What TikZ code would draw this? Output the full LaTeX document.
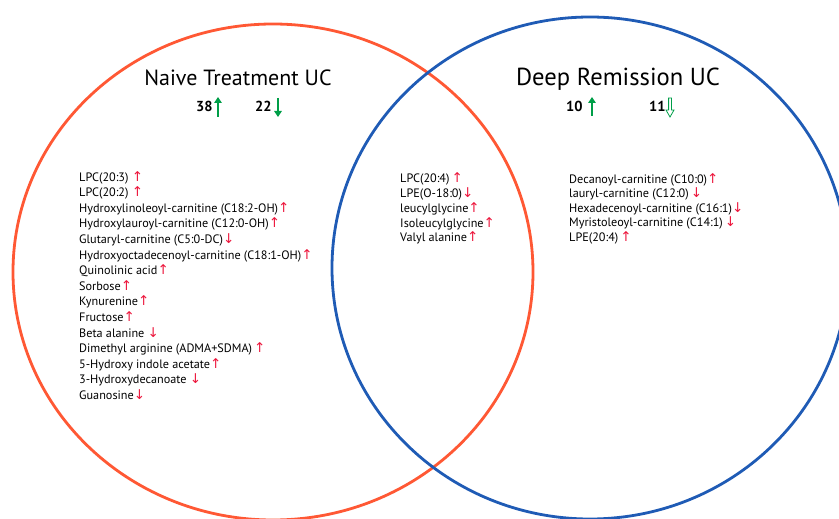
\documentclass[tikz,border=0pt]{standalone}
\usepackage{fontspec}
\setmainfont{PT Sans}
\newfontfamily\symfont{DejaVu Sans}
\usepackage{xcolor}
\usetikzlibrary{arrows.meta}
\definecolor{naiveorange}{RGB}{255,88,52}
\definecolor{deepblue}{RGB}{31,91,181}
\definecolor{markred}{RGB}{236,22,60}
\definecolor{countgreen}{RGB}{0,158,72}
\newcommand{\rup}{{\color{markred}\symfont\fontsize{13.5}{14}\selectfont ↑}}
\newcommand{\rdown}{{\color{markred}\symfont\fontsize{13.5}{14}\selectfont ↓}}

\begin{document}
\begin{tikzpicture}[x=1pt,y=-1pt,
  item/.style={anchor=base west,inner sep=0pt,font=\fontsize{12.2}{14}\selectfont},
  vtitle/.style={anchor=base,inner sep=0pt,font=\fontsize{22}{26}\selectfont},
  count/.style={anchor=base west,inner sep=0pt,font=\fontsize{14.5}{16}\selectfont\bfseries},
  bigarrow/.style={countgreen,line width=2.6pt,-{Triangle[length=6pt,width=7.5pt]}}]
  \useasboundingbox (0,0) rectangle (839,519);
  \clip (0,0) rectangle (839,519);
  % circles
  \draw[naiveorange,line width=2.8pt] (273,272) ellipse[x radius=260pt,y radius=248pt];
  \draw[deepblue,line width=2.8pt] (590,268) ellipse[x radius=258pt,y radius=251pt];
  % titles and counts
  \node[vtitle] (naivetitle) at (238,85) {Naive Treatment UC};
  \node[vtitle,font=\fontsize{24.6}{28}\selectfont] (deeptitle) at (618,85) {Deep Remission UC};
  \node[count] (naiveup) at (196,112) {38};
  \node[count] (naivedown) at (255,112) {22};
  \node[count] (deepup) at (566,111) {10};
  \node[count] (deepdown) at (649,111) {11};
  \draw[bigarrow] (218,117) -- (218,97);
  \draw[bigarrow] (278,98) -- (278,117);
  \draw[bigarrow] (592,116) -- (592,97);
  \draw[countgreen,line width=0.8pt] (668.6,98) -- (671.4,98) -- (671.4,110)
    -- (674,110) -- (670,117) -- (666,110) -- (668.6,110) -- cycle;
  % naive only
  \foreach \txt [count=\i] in {LPC(20:3) \rup, LPC(20:2) \rup,
      Hydroxylinoleoyl-carnitine (C18:2-OH)\rup,
      Hydroxylauroyl-carnitine (C12:0-OH)\rup,
      Glutaryl-carnitine (C5:0-DC)\rdown,
      Hydroxyoctadecenoyl-carnitine (C18:1-OH)\rup,
      Quinolinic acid\rup, Sorbose\rup, Kynurenine\rup, Fructose\rup,
      Beta alanine \rdown, Dimethyl arginine (ADMA+SDMA)\,\rup,
      5-Hydroxy indole acetate\rup, 3-Hydroxydecanoate \rdown, Guanosine\rdown}
    \node[item] (naive\i) at (79,165.4+15.6*\i) {\txt};
  % shared
  \foreach \txt [count=\i] in {LPC(20:4)\,\rup, LPE(O-18:0)\rdown,
      leucylglycine\rup, Isoleucylglycine\rup, Valyl alanine\rup}
    \node[item] (shared\i) at (400,168+14.75*\i) {\txt};
  % deep remission only
  \foreach \txt [count=\i] in {Decanoyl-carnitine (C10:0)\rup,
      lauryl-carnitine (C12:0)\,\rdown, Hexadecenoyl-carnitine (C16:1)\rdown,
      Myristoleoyl-carnitine (C14:1)\,\rdown, LPE(20:4)\,\rup}
    \node[item] (deep\i) at (569,168.8+14.5*\i) {\txt};
\end{tikzpicture}
\end{document}
